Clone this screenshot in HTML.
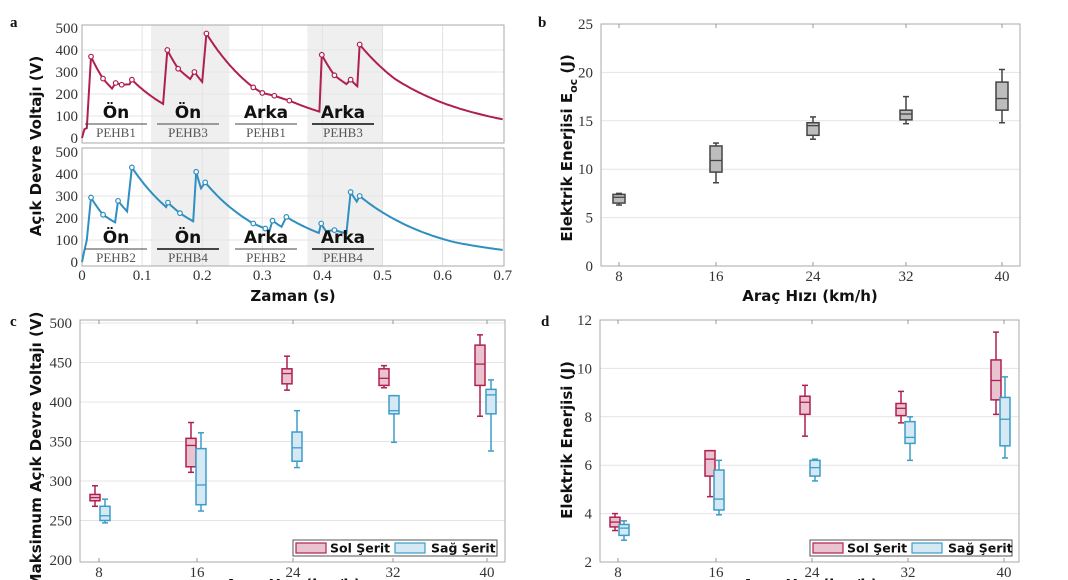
<!DOCTYPE html>
<html><head><meta charset="utf-8"><style>
html,body{margin:0;padding:0;background:#fff;}
svg{display:block;}
.tk{font-family:"Liberation Serif",serif;font-size:15px;fill:#333;}
.al{font-family:"DejaVu Sans","Liberation Sans",sans-serif;font-weight:bold;font-size:15px;fill:#111;}
.lt{font-family:"Liberation Serif",serif;font-weight:bold;font-size:15px;fill:#111;}
.on{font-family:"DejaVu Sans","Liberation Sans",sans-serif;font-weight:bold;font-size:17px;fill:#111;}
.pe{font-family:"Liberation Serif",serif;font-size:13px;fill:#555;}
.lg{font-family:"DejaVu Sans","Liberation Sans",sans-serif;font-weight:bold;font-size:12.5px;fill:#111;}
</style></head><body>
<svg id="s" width="1068" height="580" viewBox="0 0 1068 580" xmlns="http://www.w3.org/2000/svg">
<text class="lt" x="10" y="27">a</text>
<text class="lt" x="538" y="27">b</text>
<text class="lt" x="10" y="326">c</text>
<text class="lt" x="541" y="326">d</text>
</svg>
<script>
var S=document.getElementById('s'),NS='http://www.w3.org/2000/svg';
function el(t,a,txt){var e=document.createElementNS(NS,t);for(var k in a)e.setAttribute(k,a[k]);if(txt!==undefined)e.textContent=txt;S.appendChild(e);return e;}
var X0=82,XS=601;
function ax(t){return X0+t*XS;}
var panels=[{top:25,bot:143,y0:138,ys:0.22},{top:148,bot:266,y0:262,ys:0.22}];
panels.forEach(function(p){
 el('rect',{x:ax(0.115),y:p.top,width:ax(0.245)-ax(0.115),height:p.bot-p.top,fill:'#efefef'});
 el('rect',{x:ax(0.375),y:p.top,width:ax(0.5)-ax(0.375),height:p.bot-p.top,fill:'#efefef'});
 for(var i=1;i<7;i++){el('line',{x1:ax(i/10),x2:ax(i/10),y1:p.top,y2:p.bot,stroke:'#e2e2e2','stroke-width':1});}
 for(var v=100;v<=400;v+=100){el('line',{x1:X0,x2:504,y1:p.y0-v*p.ys,y2:p.y0-v*p.ys,stroke:'#e6e6e6'});}
 el('rect',{x:X0,y:p.top,width:504-X0,height:p.bot-p.top,fill:'none',stroke:'#aaa'});
 for(var v=0;v<=500;v+=100){el('text',{class:'tk',x:X0-4,y:p.y0-v*p.ys+5,'text-anchor':'end'},String(v));}
});
['0','0.1','0.2','0.3','0.4','0.5','0.6','0.7'].forEach(function(s,i){el('text',{class:'tk',x:ax(i/10),y:280,'text-anchor':'middle'},s);});
el('text',{class:'al',x:293,y:301,'text-anchor':'middle','font-size':'16'},'Zaman (s)');
el('text',{class:'al',x:0,y:0,'text-anchor':'middle',transform:'translate(41,146) rotate(-90)','font-size':'16'},'Açık Devre Voltajı (V)');
function curve(pts,p,col){
 var d='',mk=[];
 for(var i=0;i<pts.length;i++){
  var a=pts[i];
  if(i==0){d='M'+ax(a[0])+' '+(p.y0-a[1]*p.ys);continue;}
  var b=pts[i-1];
  if(a[2]=='e'&&b[1]>0&&a[1]>0){
   for(var k=1;k<=30;k++){var f=k/30,t=b[0]+(a[0]-b[0])*f,v=b[1]*Math.pow(a[1]/b[1],f);d+=' L'+ax(t).toFixed(1)+' '+(p.y0-v*p.ys).toFixed(1);}
  } else d+=' L'+ax(a[0])+' '+(p.y0-a[1]*p.ys);
  if(a[3])mk.push(a);
 }
 el('path',{d:d,fill:'none',stroke:col,'stroke-width':2});
 mk.forEach(function(a){el('circle',{cx:ax(a[0]),cy:p.y0-a[1]*p.ys,r:2.3,fill:'#fff',stroke:col,'stroke-width':1.2});});
}
var red=[[0,0],[0.004,40],[0.008,45],[0.015,370,'l',1],[0.035,270,'e',1],[0.05,225,'e'],[0.056,250,'l',1],[0.066,242,'l',1],[0.079,244,'l'],[0.083,265,'l',1],[0.135,155,'e'],[0.142,400,'l',1],[0.16,315,'e',1],[0.18,268,'e'],[0.187,300,'l',1],[0.2,255,'e'],[0.207,475,'l',1],[0.285,230,'e',1],[0.3,205,'e',1],[0.32,192,'e',1],[0.345,170,'e',1],[0.395,120,'e'],[0.399,378,'l',1],[0.42,285,'e',1],[0.44,245,'e'],[0.447,265,'l',1],[0.458,235,'e'],[0.462,425,'l',1],[0.52,270,'e'],[0.6,160,'e'],[0.7,85,'e']];
var blue=[[0,0],[0.003,40],[0.008,100],[0.015,293,'l',1],[0.035,215,'e',1],[0.055,180,'e'],[0.06,278,'l',1],[0.075,230,'e'],[0.083,430,'l',1],[0.14,250,'e'],[0.143,270,'l',1],[0.163,222,'e',1],[0.185,185,'e'],[0.19,410,'l',1],[0.198,335,'e'],[0.205,362,'l',1],[0.285,175,'e',1],[0.305,152,'e',1],[0.312,142,'e'],[0.317,188,'l',1],[0.332,160,'e'],[0.34,205,'l',1],[0.394,132,'e'],[0.398,175,'l',1],[0.406,140,'e'],[0.42,145,'l',1],[0.44,130,'e'],[0.447,318,'l',1],[0.457,275,'e'],[0.462,300,'l',1],[0.53,180,'e'],[0.62,90,'e'],[0.7,55,'e']];
curve(red,panels[0],'#b0204e');
curve(blue,panels[1],'#2e8fc0');
function lab(cx,y,w,txt,sub){
 el('text',{class:'on',x:cx,y:y,'text-anchor':'middle'},txt);
 el('line',{x1:cx-31,x2:cx+31,y1:y+6,y2:y+6,stroke:'#444','stroke-width':w});
 el('text',{class:'pe',x:cx,y:y+19,'text-anchor':'middle'},sub);
}
lab(116,118,1,'Ön','PEHB1');lab(188,118,1,'Ön','PEHB3');lab(266,118,1,'Arka','PEHB1');lab(343,118,2,'Arka','PEHB3');
lab(116,243,1,'Ön','PEHB2');lab(188,243,2,'Ön','PEHB4');lab(266,243,1,'Arka','PEHB2');lab(343,243,2,'Arka','PEHB4');
function frame(L,R,T,B,yt,ymap,xt,xs){
 yt.forEach(function(v){var y=ymap(v);if(y>T+2&&y<B-2)el('line',{x1:L,x2:R,y1:y,y2:y,stroke:'#e4e4e4'});el('text',{class:'tk',x:L-8,y:y+5,'text-anchor':'end'},String(v));});
 el('rect',{x:L,y:T,width:R-L,height:B-T,fill:'none',stroke:'#aaa'});
 xt.forEach(function(s,i){el('line',{x1:xs[i],x2:xs[i],y1:B,y2:B-4,stroke:'#999'});el('line',{x1:xs[i],x2:xs[i],y1:T,y2:T+4,stroke:'#999'});el('text',{class:'tk',x:xs[i],y:B+15,'text-anchor':'middle'},s);});
}
function box(x,w,d,ymap,st,fi){
 var wl=d[0],q1=d[1],md=d[2],q3=d[3],wh=d[4];
 el('line',{x1:x,x2:x,y1:ymap(wh),y2:ymap(q3),stroke:st,'stroke-width':1.5});
 el('line',{x1:x,x2:x,y1:ymap(wl),y2:ymap(q1),stroke:st,'stroke-width':1.5});
 el('line',{x1:x-3,x2:x+3,y1:ymap(wh),y2:ymap(wh),stroke:st,'stroke-width':1.5});
 el('line',{x1:x-3,x2:x+3,y1:ymap(wl),y2:ymap(wl),stroke:st,'stroke-width':1.5});
 el('rect',{x:x-w/2,y:ymap(q3),width:w,height:ymap(q1)-ymap(q3),fill:fi,stroke:st,'stroke-width':1.5});
 el('line',{x1:x-w/2,x2:x+w/2,y1:ymap(md),y2:ymap(md),stroke:st,'stroke-width':1.3});
}
var XT=['8','16','24','32','40'];
var yb=function(v){return 266-v*9.68;};
frame(601,1020,24,266,[0,5,10,15,20,25],yb,XT,[619,716,813,906,1002]);
[[6.3,6.5,7.1,7.4,7.5],[8.6,9.7,10.9,12.4,12.7],[13.1,13.5,14.5,14.8,15.4],[14.7,15.1,15.7,16.1,17.5],[14.8,16.1,17.3,19.0,20.3]].forEach(function(d,i){box([619,716,813,906,1002][i],12,d,yb,'#444','#bdbdbd');});
el('text',{class:'al',x:810,y:301,'text-anchor':'middle','font-size':'16'},'Araç Hızı (km/h)');
var g=el('text',{class:'al',x:0,y:0,'text-anchor':'middle',transform:'translate(572,148) rotate(-90)','font-size':'16'},'Elektrik Enerjisi  E');
var ts=document.createElementNS(NS,'tspan');ts.setAttribute('font-size','11');ts.setAttribute('dy','5');ts.textContent='oc';g.appendChild(ts);
var ts2=document.createElementNS(NS,'tspan');ts2.setAttribute('dy','-5');ts2.textContent='  (J)';g.appendChild(ts2);
var PK='#b0204e',PF='#eac3d1',BL='#3d9cc8',BF='#d4e9f3';
var yc=function(v){return 560-(v-200)*0.79;};
frame(80,505,320,562,[200,250,300,350,400,450,500],yc,XT,[99,197,293,393,487]);
var cp=[[268,275,279,283,294],[311,318,345,354,374],[415,423,436,442,458],[418,421,430,442,446],[382,421,448,472,485]];
var cb=[[247,250,256,268,277],[262,270,295,341,361],[317,325,342,362,389],[349,385,389,408,408],[338,385,409,416,428]];
var cpx=[95,191,287,384,480],cbx=[105,201,297,394,491];
cp.forEach(function(d,i){box(cpx[i],10,d,yc,PK,PF);});
cb.forEach(function(d,i){box(cbx[i],10,d,yc,BL,BF);});
function legend(L,R,T){
 el('rect',{x:L,y:T,width:R-L,height:16,fill:'#fff',stroke:'#555'});
 el('rect',{x:L+3,y:T+3,width:30,height:10,fill:PF,stroke:PK,'stroke-width':1.2});
 el('text',{class:'lg',x:L+37,y:T+12.5},'Sol Şerit');
 el('rect',{x:L+102,y:T+3,width:30,height:10,fill:BF,stroke:BL,'stroke-width':1.2});
 el('text',{class:'lg',x:L+138,y:T+12.5},'Sağ Şerit');
}
legend(293,497,540);
el('text',{class:'al',x:0,y:0,'text-anchor':'middle',transform:'translate(41,450) rotate(-90)','font-size':'16'},'Maksimum Açık Devre Voltajı (V)');
el('text',{class:'al',x:293,y:590,'text-anchor':'middle','font-size':'16'},'Araç Hızı (km/h)');
var yd=function(v){return 562-(v-2)*24.2;};
frame(600,1019,320,562,[2,4,6,8,10,12],yd,XT,[618,716,812,908,1004]);
var dp=[[3.3,3.45,3.65,3.85,4.0],[4.7,5.55,6.25,6.6,6.6],[7.2,8.1,8.6,8.85,9.3],[7.75,8.05,8.35,8.55,9.05],[8.1,8.7,9.5,10.35,11.5]];
var db=[[2.9,3.1,3.4,3.55,3.7],[3.95,4.15,4.6,5.8,6.2],[5.35,5.55,5.9,6.2,6.25],[6.2,6.9,7.15,7.8,8.0],[6.3,6.8,7.9,8.8,9.65]];
var dpx=[615,710,805,901,996],dbx=[624,719,815,910,1005];
dp.forEach(function(d,i){box(dpx[i],10,d,yd,PK,PF);});
db.forEach(function(d,i){box(dbx[i],10,d,yd,BL,BF);});
legend(810,1012,540);
el('text',{class:'al',x:0,y:0,'text-anchor':'middle',transform:'translate(572,440) rotate(-90)','font-size':'16'},'Elektrik Enerjisi (J)');
el('text',{class:'al',x:810,y:590,'text-anchor':'middle','font-size':'16'},'Araç Hızı (km/h)');
</script>
</body></html>
